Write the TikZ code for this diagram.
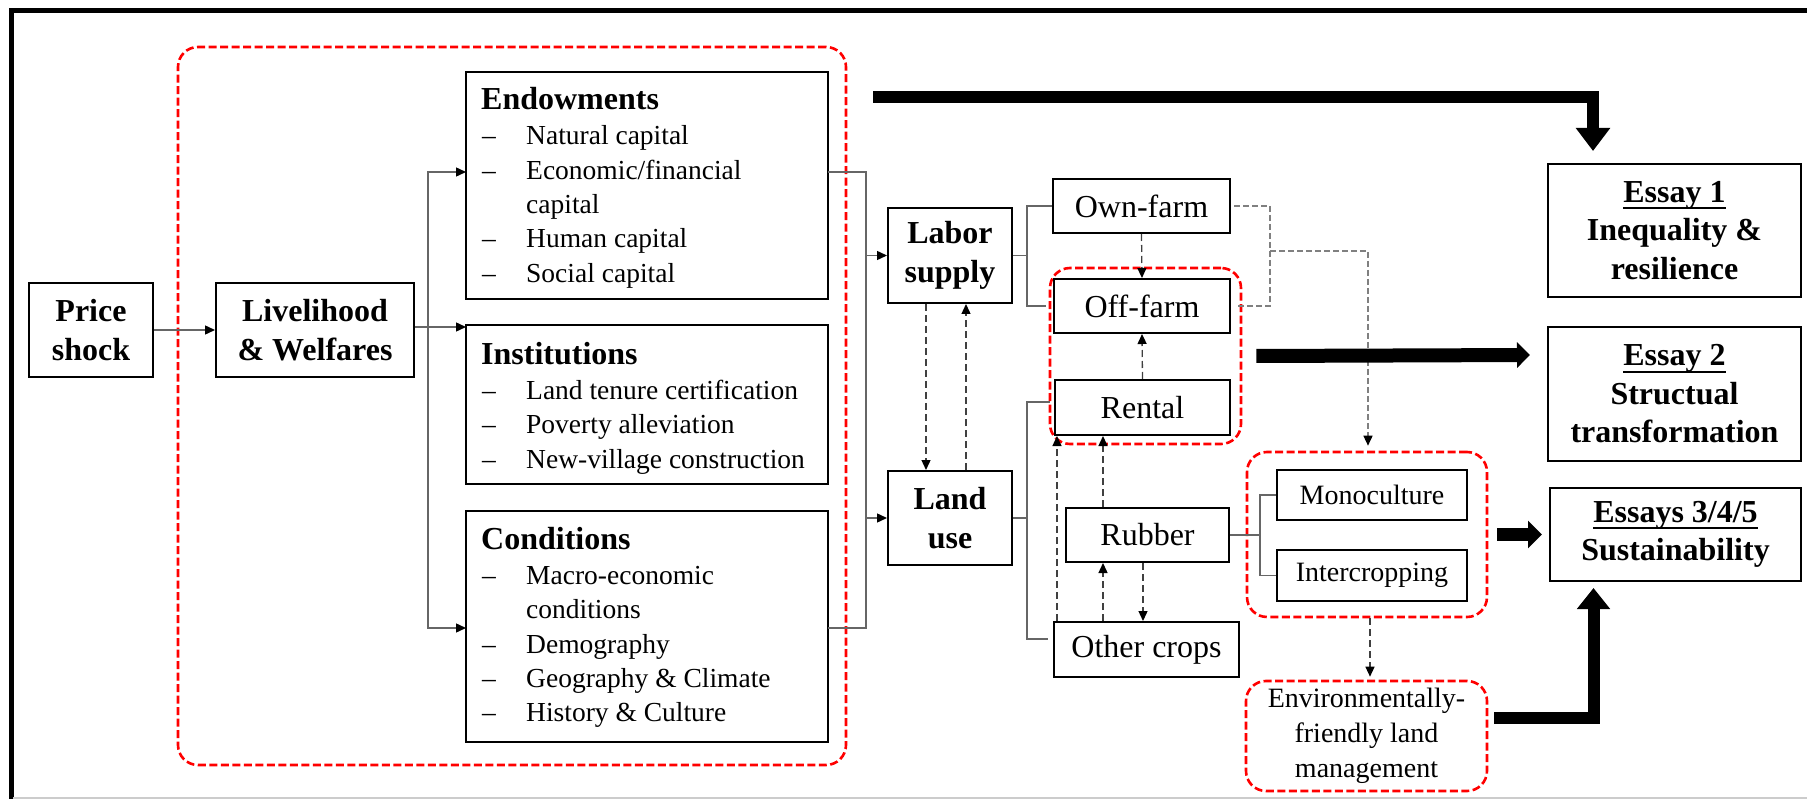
\documentclass[tikz,border=0pt]{standalone}
\usepackage{fontspec}
\setmainfont{Liberation Serif}
\usetikzlibrary{arrows.meta,calc}
% box given by its corners: name, x1, y1, x2, y2, style, text
\newcommand\bx[7]{\node[#6,minimum width={#4-#2},minimum height={#5-#3}] (#1) at ({(#2+#4)/2},{(#3+#5)/2}) {#7};}
% thick underline for the essay titles
\newcommand\ulx[1]{\setbox0\hbox{#1}\rlap{\rule[-7pt]{\wd0}{2.4pt}}\box0}
\begin{document}
\begin{tikzpicture}[x=1pt,y=-1pt,
  box/.style={draw=black,line width=2pt,inner sep=0pt,align=center},
  grp/.style={draw=red,line width=2.6pt,dash pattern=on 8pt off 3.5pt,rounded corners=20pt,inner sep=0pt,align=center},
  boldtxt/.style={font=\fontsize{32}{38.5}\selectfont\bfseries},
  bigtxt/.style={font=\fontsize{32}{38.5}\selectfont},
  smalltxt/.style={font=\fontsize{28}{35}\selectfont},
  head/.style={anchor=base west,inner sep=0pt,font=\fontsize{32}{38}\selectfont\bfseries},
  item/.style={anchor=base west,inner sep=0pt,font=\fontsize{27.5}{34.5}\selectfont},
  conn/.style={draw=black!60,line width=1.4pt},
  dk/.style={draw=black!75,line width=1.3pt,dash pattern=on 7pt off 4pt},
  gr/.style={draw=black!50,line width=1.5pt,dash pattern=on 6pt off 3pt},
  arr/.style={-{Triangle[length=10pt,width=9pt,color=black]}},
  fat/.style={draw=black,line width=#1},
]
\useasboundingbox (0,0) rectangle (1807,799);

% frame
\draw[line width=5pt] (11,799) -- (11,10.5) -- (1807,10.5);
\draw[black!20,line width=1.5pt] (13,798) -- (1807,798);

% dashed red groups
\bx{bigA}{178}{47}{846}{765}{grp}{}
\bx{offgrp}{1050}{268}{1241}{444}{grp}{}
\bx{monogrp}{1247}{452}{1487}{617}{grp}{}
\bx{env}{1246}{681}{1487}{791}{grp,smalltxt}{Environmentally-\\friendly land\\management}

% main boxes
\bx{price}{29}{283}{153}{377}{box,boldtxt}{Price\\shock}
\bx{live}{216}{283}{414}{377}{box,boldtxt}{Livelihood\\\& Welfares}
\bx{endow}{466}{72}{828}{299}{box}{}
\bx{inst}{466}{325}{828}{484}{box}{}
\bx{cond}{466}{511}{828}{742}{box}{}
\bx{labor}{888}{208}{1012}{303}{box,boldtxt}{Labor\\supply}
\bx{land}{888}{471}{1012}{565}{box,boldtxt}{Land\\use}
\bx{own}{1053}{179}{1230}{233}{box,bigtxt}{Own-farm}
\bx{off}{1054}{279}{1230}{333}{box,bigtxt}{Off-farm}
\bx{rental}{1055}{380}{1230}{435}{box,bigtxt}{Rental}
\bx{rubber}{1066}{508}{1229}{562}{box,bigtxt}{Rubber}
\bx{other}{1054}{622}{1239}{677}{box,bigtxt}{Other crops}
\bx{mono}{1277}{470}{1467}{520}{box,smalltxt}{Monoculture}
\bx{inter}{1277}{550}{1467}{601}{box,smalltxt}{Intercropping}
\bx{essay1}{1548}{164}{1801}{297}{box,boldtxt}{\ulx{Essay 1}\\Inequality \&\\resilience}
\bx{essay2}{1548}{327}{1801}{461}{box,boldtxt}{\ulx{Essay 2}\\Structual\\transformation}
\bx{essay3}{1550}{488}{1801}{581}{box,boldtxt}{\ulx{Essays 3/4/5}\\Sustainability}

% contents of the three capital boxes
\node[head] (endowH) at (481,110) {Endowments};
\node[item] (endow1) at (482,145) {\makebox[44pt][l]{–}Natural capital};
\node[item] (endow2) at (482,180) {\makebox[44pt][l]{–}Economic/financial};
\node[item] (endow2b) at (526,214) {capital};
\node[item] (endow3) at (482,248) {\makebox[44pt][l]{–}Human capital};
\node[item] (endow4) at (482,283) {\makebox[44pt][l]{–}Social capital};
\node[head] (instH) at (481,365) {Institutions};
\node[item] (inst1) at (482,399.5) {\makebox[44pt][l]{–}Land tenure certification};
\node[item] (inst2) at (482,433.5) {\makebox[44pt][l]{–}Poverty alleviation};
\node[item] (inst3) at (482,468) {\makebox[44pt][l]{–}New-village construction};
\node[head] (condH) at (481,549) {Conditions};
\node[item] (cond1) at (482,584) {\makebox[44pt][l]{–}Macro-economic};
\node[item] (cond1b) at (526,618) {conditions};
\node[item] (cond2) at (482,653) {\makebox[44pt][l]{–}Demography};
\node[item] (cond3) at (482,687) {\makebox[44pt][l]{–}Geography \& Climate};
\node[item] (cond4) at (482,721) {\makebox[44pt][l]{–}History \& Culture};

% junction points
\coordinate (eA) at (466,172);
\coordinate (iA) at (466,327);
\coordinate (cA) at (466,628);
\coordinate (jl) at (428,327);
\coordinate (eB) at (828,172);
\coordinate (cB) at (828,628);
\coordinate (jr) at (866,0);
\coordinate (jb) at (1027,0);
\coordinate (rA) at (1050,402);
\coordinate (oA) at (1048,639);
\coordinate (jm) at (1260,0);

% solid connectors
\draw[conn,arr] (price.east) -- (live.west);
\draw[conn,arr] (live.east |- iA) -- (iA);
\draw[conn,arr] (jl) |- (eA);
\draw[conn,arr] (jl) |- (cA);
\draw[conn] (eB) -| (jr |- cB) -- (cB);
\draw[conn,arr] (jr |- labor.west) -- (labor.west);
\draw[conn,arr] (jr |- land.west) -- (land.west);
\draw[conn] (labor.east) -- (jb |- labor.east);
\draw[conn] (own.west) -| (jb |- off.west) -- ([xshift=-7pt]off.west);
\draw[conn] (land.east) -- (jb |- land.east);
\draw[conn] (rA) -| (jb |- oA) -- (oA);
\draw[conn] (rubber.east) -- (jm |- rubber.east);
\draw[conn] (mono.west) -| (jm |- inter.west) -- (inter.west);

% dashed feedback arrows
\coordinate (x1) at (926,0);
\coordinate (x2) at (966,0);
\coordinate (x3) at (1103,0);
\coordinate (x4) at (1057,0);
\coordinate (x5) at (1143,0);
\coordinate (x6) at (1370,0);
\coordinate (x7) at (1270,0);
\coordinate (x8) at (1368,0);
\coordinate (g1) at (1270,251);
\draw[dk,arr] (labor.south -| x1) -- (land.north -| x1);
\draw[dk,arr] (land.north -| x2) -- (labor.south -| x2);
\draw[dk,arr] (own.south) -- (off.north);
\draw[dk,arr] (rental.north) -- (off.south);
\draw[dk,arr] (rubber.north -| x3) -- (rental.south -| x3);
\draw[dk,arr] (other.north -| x4) -- (rental.south -| x4);
\draw[dk,arr] (other.north -| x3) -- (rubber.south -| x3);
\draw[dk,arr] (rubber.south -| x5) -- (other.north -| x5);
\draw[dk,arr,shorten >=3pt] (monogrp.south -| x6) -- (env.north -| x6);
\draw[gr] ([xshift=3pt]own.east) -| (x7 |- off.east) -- ([xshift=7pt]off.east);
\draw[gr,arr,shorten >=5pt] (g1) -| (monogrp.north -| x8);

% thick arrows to the essays
\coordinate (t1) at (873,97.5);
\coordinate (t1e) at (1593,151);
\coordinate (t2e) at (1530,355);
\coordinate (t4) at (1494,718);
\coordinate (t4e) at (1593.5,588);
\draw[fat=12pt,-{Triangle[length=23pt,width=33pt]}] (t1) -| (t1e);
\draw[fat=14pt,-{Triangle[length=13pt,width=25pt]}] ([xshift=14pt]offgrp.east) -- (t2e);
\draw[fat=13pt,-{Triangle[length=14pt,width=27pt]},shorten >=7pt] ([xshift=9pt]monogrp.east) -- (essay3.west);
\draw[fat=12pt,-{Triangle[length=21pt,width=32pt]}] (t4) -| (t4e);
\end{tikzpicture}
\end{document}
